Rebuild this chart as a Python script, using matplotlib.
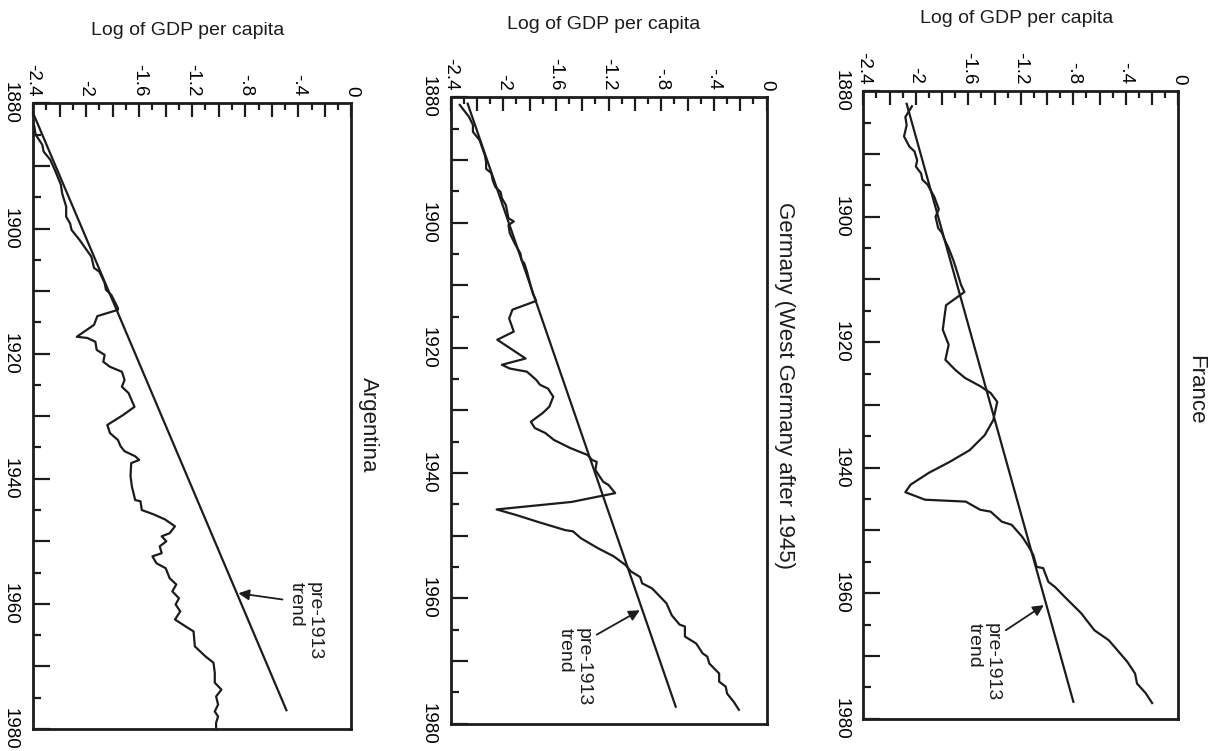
import matplotlib
matplotlib.use('Agg')
import matplotlib.pyplot as plt
from matplotlib.ticker import MultipleLocator, FuncFormatter

plt.rcParams['font.family'] = ['Liberation Sans', 'DejaVu Sans']

# Argentina, log GDP per capita
arg_year = [1881.9, 1883.7, 1885.0, 1886.6, 1887.7, 1889.0, 1890.9, 1893.0, 1894.4, 1896.5,
            1898.1, 1899.2, 1900.2, 1901.8, 1904.5, 1906.3, 1906.9, 1908.7, 1909.8, 1910.6,
            1912.7, 1913.0, 1914.0, 1915.4, 1917.3, 1917.5, 1918.1, 1919.4, 1920.2, 1921.3,
            1922.1, 1922.9, 1924.2, 1925.3, 1926.3, 1928.5, 1929.8, 1931.4, 1932.7, 1933.8,
            1934.8, 1935.6, 1936.4, 1937.0, 1937.5, 1939.6, 1941.2, 1943.4, 1943.6, 1945.0,
            1945.7, 1946.5, 1947.6, 1948.7, 1949.2, 1950.0, 1950.8, 1951.9, 1952.4, 1953.5,
            1954.3, 1955.9, 1956.9, 1958.0, 1959.1, 1960.1, 1961.2, 1962.5, 1963.6, 1964.4,
            1966.8, 1968.4, 1969.4, 1971.0, 1972.6, 1973.7, 1974.8, 1976.1, 1977.2, 1978.0,
            1979.0, 1979.8]
arg_gdp = [-2.42, -2.39, -2.38, -2.33, -2.32, -2.27, -2.23, -2.19, -2.18, -2.15,
           -2.15, -2.12, -2.11, -2.05, -1.96, -1.94, -1.90, -1.86, -1.85, -1.81,
           -1.76, -1.76, -1.915, -1.94, -2.07, -1.99, -1.93, -1.92, -1.86, -1.87,
           -1.82, -1.73, -1.71, -1.73, -1.68, -1.635, -1.72, -1.84, -1.82, -1.76,
           -1.74, -1.71, -1.63, -1.60, -1.66, -1.665, -1.655, -1.63, -1.59, -1.58,
           -1.49, -1.405, -1.33, -1.37, -1.43, -1.395, -1.445, -1.43, -1.50, -1.47,
           -1.40, -1.37, -1.32, -1.35, -1.30, -1.325, -1.29, -1.33, -1.25, -1.19,
           -1.18, -1.10, -1.04, -1.03, -1.03, -0.98, -1.02, -1.005, -1.03, -1.005,
           -1.02, -1.02]
arg_trend_year = [1880, 1977]
arg_trend = [-2.43, -0.49]

# Germany (West Germany after 1945)
ger_year = [1881.2, 1883.1, 1884.4, 1885.5, 1886.8, 1889.2, 1890.3, 1891.4, 1892.1, 1893.2,
            1894.3, 1895.1, 1896.1, 1897.2, 1899.3, 1899.8, 1900.4, 1901.7, 1903.0, 1903.8,
            1904.9, 1906.0, 1906.5, 1907.8, 1908.6, 1910.2, 1911.3, 1912.5, 1913.9, 1915.3,
            1917.4, 1918.7, 1921.7, 1922.7, 1923.3, 1923.8, 1925.1, 1925.9, 1926.5, 1927.8,
            1929.4, 1930.4, 1931.8, 1932.8, 1933.6, 1934.7, 1936.0, 1937.1, 1937.9, 1938.2,
            1939.5, 1940.3, 1941.4, 1941.9, 1943.2, 1944.6, 1945.8, 1946.7, 1947.8, 1949.1,
            1949.3, 1950.4, 1952.0, 1953.3, 1954.7, 1955.7, 1956.6, 1957.6, 1958.4, 1959.7,
            1960.8, 1962.7, 1964.2, 1964.5, 1966.1, 1967.2, 1968.8, 1969.3, 1970.4, 1972.0,
            1973.3, 1974.1, 1975.2, 1976.5, 1977.8]
ger_gdp = [-2.33, -2.26, -2.23, -2.23, -2.18, -2.14, -2.13, -2.13, -2.09, -2.08,
           -2.06, -2.02, -2.01, -1.98, -1.96, -1.92, -1.96, -1.95, -1.92, -1.90,
           -1.87, -1.86, -1.84, -1.82, -1.81, -1.79, -1.775, -1.75, -1.93, -1.955,
           -1.92, -2.045, -1.83, -2.01, -1.95, -1.82, -1.75, -1.72, -1.66, -1.62,
           -1.65, -1.70, -1.79, -1.76, -1.68, -1.615, -1.49, -1.36, -1.325, -1.29,
           -1.30, -1.275, -1.24, -1.20, -1.15, -1.48, -2.05, -1.90, -1.735, -1.53,
           -1.47, -1.41, -1.28, -1.16, -1.07, -1.03, -0.96, -0.945, -0.87, -0.81,
           -0.76, -0.72, -0.66, -0.62, -0.62, -0.535, -0.485, -0.45, -0.435, -0.36,
           -0.36, -0.31, -0.30, -0.25, -0.21]
ger_trend_year = [1881, 1977.3]
ger_trend = [-2.27, -0.69]

# France
fra_year = [1882.4, 1884.1, 1885.4, 1887.2, 1888.8, 1889.6, 1891.0, 1892.0, 1893.1, 1894.1,
            1894.9, 1895.7, 1896.8, 1898.8, 1900.0, 1901.8, 1902.6, 1903.7, 1905.0, 1906.9,
            1908.5, 1910.9, 1912.0, 1914.1, 1918.0, 1920.4, 1922.8, 1924.4, 1925.7, 1927.0,
            1928.1, 1929.5, 1932.4, 1934.8, 1937.2, 1939.1, 1940.8, 1942.7, 1943.9, 1945.1,
            1945.4, 1946.7, 1947.0, 1948.6, 1949.1, 1951.0, 1952.6, 1953.9, 1955.8, 1956.0,
            1958.2, 1959.0, 1960.5, 1963.2, 1965.9, 1967.5, 1970.9, 1972.8, 1974.4, 1975.9,
            1977.5]
fra_gdp = [-2.03, -2.08, -2.07, -2.09, -2.05, -2.01, -1.99, -2.00, -1.96, -1.95,
           -1.91, -1.89, -1.86, -1.825, -1.85, -1.83, -1.80, -1.78, -1.75, -1.715,
           -1.69, -1.655, -1.63, -1.77, -1.795, -1.75, -1.775, -1.70, -1.625, -1.51,
           -1.43, -1.38, -1.41, -1.475, -1.59, -1.745, -1.90, -2.04, -2.08, -1.93,
           -1.62, -1.51, -1.43, -1.345, -1.27, -1.19, -1.14, -1.105, -1.08, -1.03,
           -0.99, -0.94, -0.87, -0.74, -0.64, -0.53, -0.39, -0.33, -0.315, -0.25,
           -0.20]
fra_trend_year = [1882, 1977.3]
fra_trend = [-2.07, -0.80]

# "pre-1913 trend" notes: year where the arrow meets the trend, arrow tail, text corner
note_tip_year = [1958.3, 1961.9, 1961.9]
note_tail = [(-0.52, 1959.3), (-1.29, 1965.8), (-1.315, 1965.9)]
note_text = [(-0.48, 1956.5), (-1.59, 1964.7), (-1.62, 1964.7)]
note_side = [0.012, -0.02, -0.02]

titles = ['Argentina', 'Germany (West Germany after 1945)', 'France']
title_pos = [0.487, 0.54, 0.525]
boxes = [[0.0270, 0.0293, 0.2606, 0.8330],
         [0.3687, 0.0365, 0.2586, 0.8338],
         [0.7065, 0.0430, 0.2578, 0.8355]]

ink = '#1c1c1c'


def gdp_label(v, pos):
    if abs(round(v / 0.4) * 0.4 - v) > 1e-6:
        return ''
    if abs(v) < 1e-6:
        return '0'
    s = ('%.1f' % v).rstrip('0').rstrip('.')
    return s.replace('-0.', '-.')


def year_label(v, pos):
    return '%d' % round(v) if round(v) % 20 == 0 else ''


def trend_at(ty, tv, yr):
    return tv[0] + (tv[1] - tv[0]) * (yr - ty[0]) / (ty[1] - ty[0])


fig = plt.figure(figsize=(12.22, 7.51), dpi=100)

series = [(arg_year, arg_gdp, arg_trend_year, arg_trend),
          (ger_year, ger_gdp, ger_trend_year, ger_trend),
          (fra_year, fra_gdp, fra_trend_year, fra_trend)]

for i, (yr, gdp, ty, tv) in enumerate(series):
    ax = fig.add_axes(boxes[i])
    ax.plot(gdp, yr, color=ink, lw=1.6)
    ax.plot(tv, ty, color=ink, lw=1.6)
    ax.set_xlim(-2.4, 0)
    ax.set_ylim(1980, 1880)

    ax.xaxis.set_major_locator(MultipleLocator(0.2))
    ax.xaxis.set_minor_locator(MultipleLocator(0.1))
    ax.xaxis.set_major_formatter(FuncFormatter(gdp_label))
    ax.yaxis.set_major_locator(MultipleLocator(10))
    ax.yaxis.set_minor_locator(MultipleLocator(5))
    ax.yaxis.set_major_formatter(FuncFormatter(year_label))

    ax.tick_params(axis='x', which='both', direction='in', top=True, bottom=False,
                   labeltop=True, labelbottom=False, labelrotation=-90, pad=5,
                   labelsize=13.5, width=1.6, color=ink)
    ax.tick_params(axis='x', which='major', length=10)
    ax.tick_params(axis='x', which='minor', length=5)
    ax.tick_params(axis='y', which='both', direction='in', left=True, right=False,
                   labelrotation=-90, pad=10, labelsize=13.5, width=1.6, color=ink)
    ax.tick_params(axis='y', which='major', length=12)
    ax.tick_params(axis='y', which='minor', length=6)
    plt.setp(ax.get_yticklabels(), va='center')

    for s in ax.spines.values():
        s.set_linewidth(2)
        s.set_color(ink)

    ax.annotate('Log of GDP per capita', xy=(0.485, 1), xycoords='axes fraction',
                xytext=(0, 73), textcoords='offset pixels', ha='center', va='center',
                fontsize=14, color=ink)
    ax.annotate(titles[i], xy=(1, title_pos[i]), xycoords='axes fraction',
                xytext=(7, 0), textcoords='offset pixels', rotation=-90,
                ha='left', va='center', fontsize=16, color=ink)

    # arrow to the pre-1913 trend line
    tip = (trend_at(ty, tv, note_tip_year[i]) + note_side[i], note_tip_year[i])
    ax.annotate('', xy=tip, xytext=note_tail[i],
                arrowprops=dict(arrowstyle='-|>', color=ink, lw=1.3,
                                mutation_scale=16, shrinkA=0, shrinkB=0))
    ax.text(note_text[i][0], note_text[i][1], 'pre-1913\ntrend', rotation=-90,
            ha='left', va='top', fontsize=14, linespacing=1.05, color=ink)

fig.savefig('out.png', dpi=100)
